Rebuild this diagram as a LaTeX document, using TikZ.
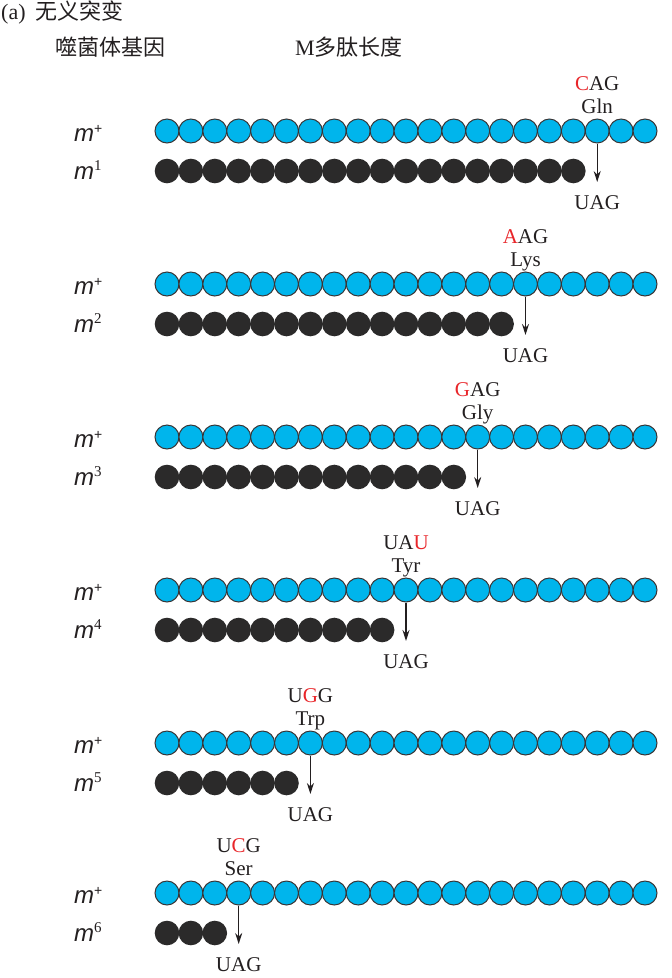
\documentclass[tikz,border=0pt]{standalone}
\usepackage{fontspec}
\setmainfont{Liberation Serif}
\newfontfamily\cjk{Noto Sans CJK SC}
\newfontfamily\msans{Liberation Sans}
\usetikzlibrary{arrows.meta}
\definecolor{beadblue}{HTML}{00B5EC}
\definecolor{beadblack}{HTML}{2B2A2A}
\definecolor{mutred}{HTML}{E8262A}
\definecolor{ink}{HTML}{231F20}
\begin{document}
\begin{tikzpicture}[x=1pt,y=-1pt,
  bluebead/.style={circle,draw=ink!90,line width=1pt,fill=beadblue,minimum size=24pt,inner sep=0pt},
  blackbead/.style={circle,fill=beadblack,minimum size=24.6pt,inner sep=0pt},
  txt/.style={font=\fontsize{21}{21}\selectfont,text=ink,anchor=base,inner sep=0pt},
  head/.style={font=\fontsize{22}{22}\selectfont,text=ink,anchor=base west,inner sep=0pt},
  mlab/.style={font=\msans\itshape\fontsize{24}{24}\selectfont,text=ink,anchor=base west,inner sep=0pt},
  stoparrow/.style={-{Stealth[length=11pt,width=7pt]},line width=1.3pt,draw=ink}]
\useasboundingbox (0,0) rectangle (672,978);
\node[head] (tA) at (1,19) {(a)};
\node[head] (tB) at (35,19) {\cjk 无义突变};
\node[head] (h1) at (55,55) {\cjk 噬菌体基因};
\node[head] (h2) at (295,55) {M{\cjk 多肽长度}};
\foreach \r/\yb/\n/\cod/\aa in {
  1/131/18/{\textcolor{mutred}{C}AG}/Gln,
  2/284/15/{\textcolor{mutred}{A}AG}/Lys,
  3/437/13/{\textcolor{mutred}{G}AG}/Gly,
  4/590/10/{UA\textcolor{mutred}{U}}/Tyr,
  5/743/6/{U\textcolor{mutred}{G}G}/Trp,
  6/893/3/{U\textcolor{mutred}{C}G}/Ser}{
  \foreach \i in {0,...,20}
    \node[bluebead] (wt\r-\i) at ({167+23.9*\i},\yb) {};
  \pgfmathtruncatemacro\last{\n-1}
  \foreach \i in {0,...,\last}
    \node[blackbead] (mut\r-\i) at ({167+23.9*\i},{\yb+40}) {};
  \pgfmathsetmacro\ax{167+23.9*\n}
  \node[txt] (cod\r) at (\ax,{\yb-41}) {\cod};
  \node[txt] (aa\r) at (\ax,{\yb-18}) {\aa};
  \coordinate (stop\r) at (\ax,{\yb+51});
  \draw[stoparrow] (wt\r-\n.south) -- (stop\r);
  \node[txt] (uag\r) at (\ax,{\yb+78}) {UAG};
  \node[mlab] (mw\r) at (74,{\yb+10}) {m\raisebox{8pt}{\fontsize{14}{14}\selectfont\upshape +}};
  \node[mlab] (mm\r) at (74,{\yb+48}) {m\raisebox{9pt}{\rmfamily\upshape\fontsize{15}{15}\selectfont \r}};
}
\end{tikzpicture}
\end{document}
